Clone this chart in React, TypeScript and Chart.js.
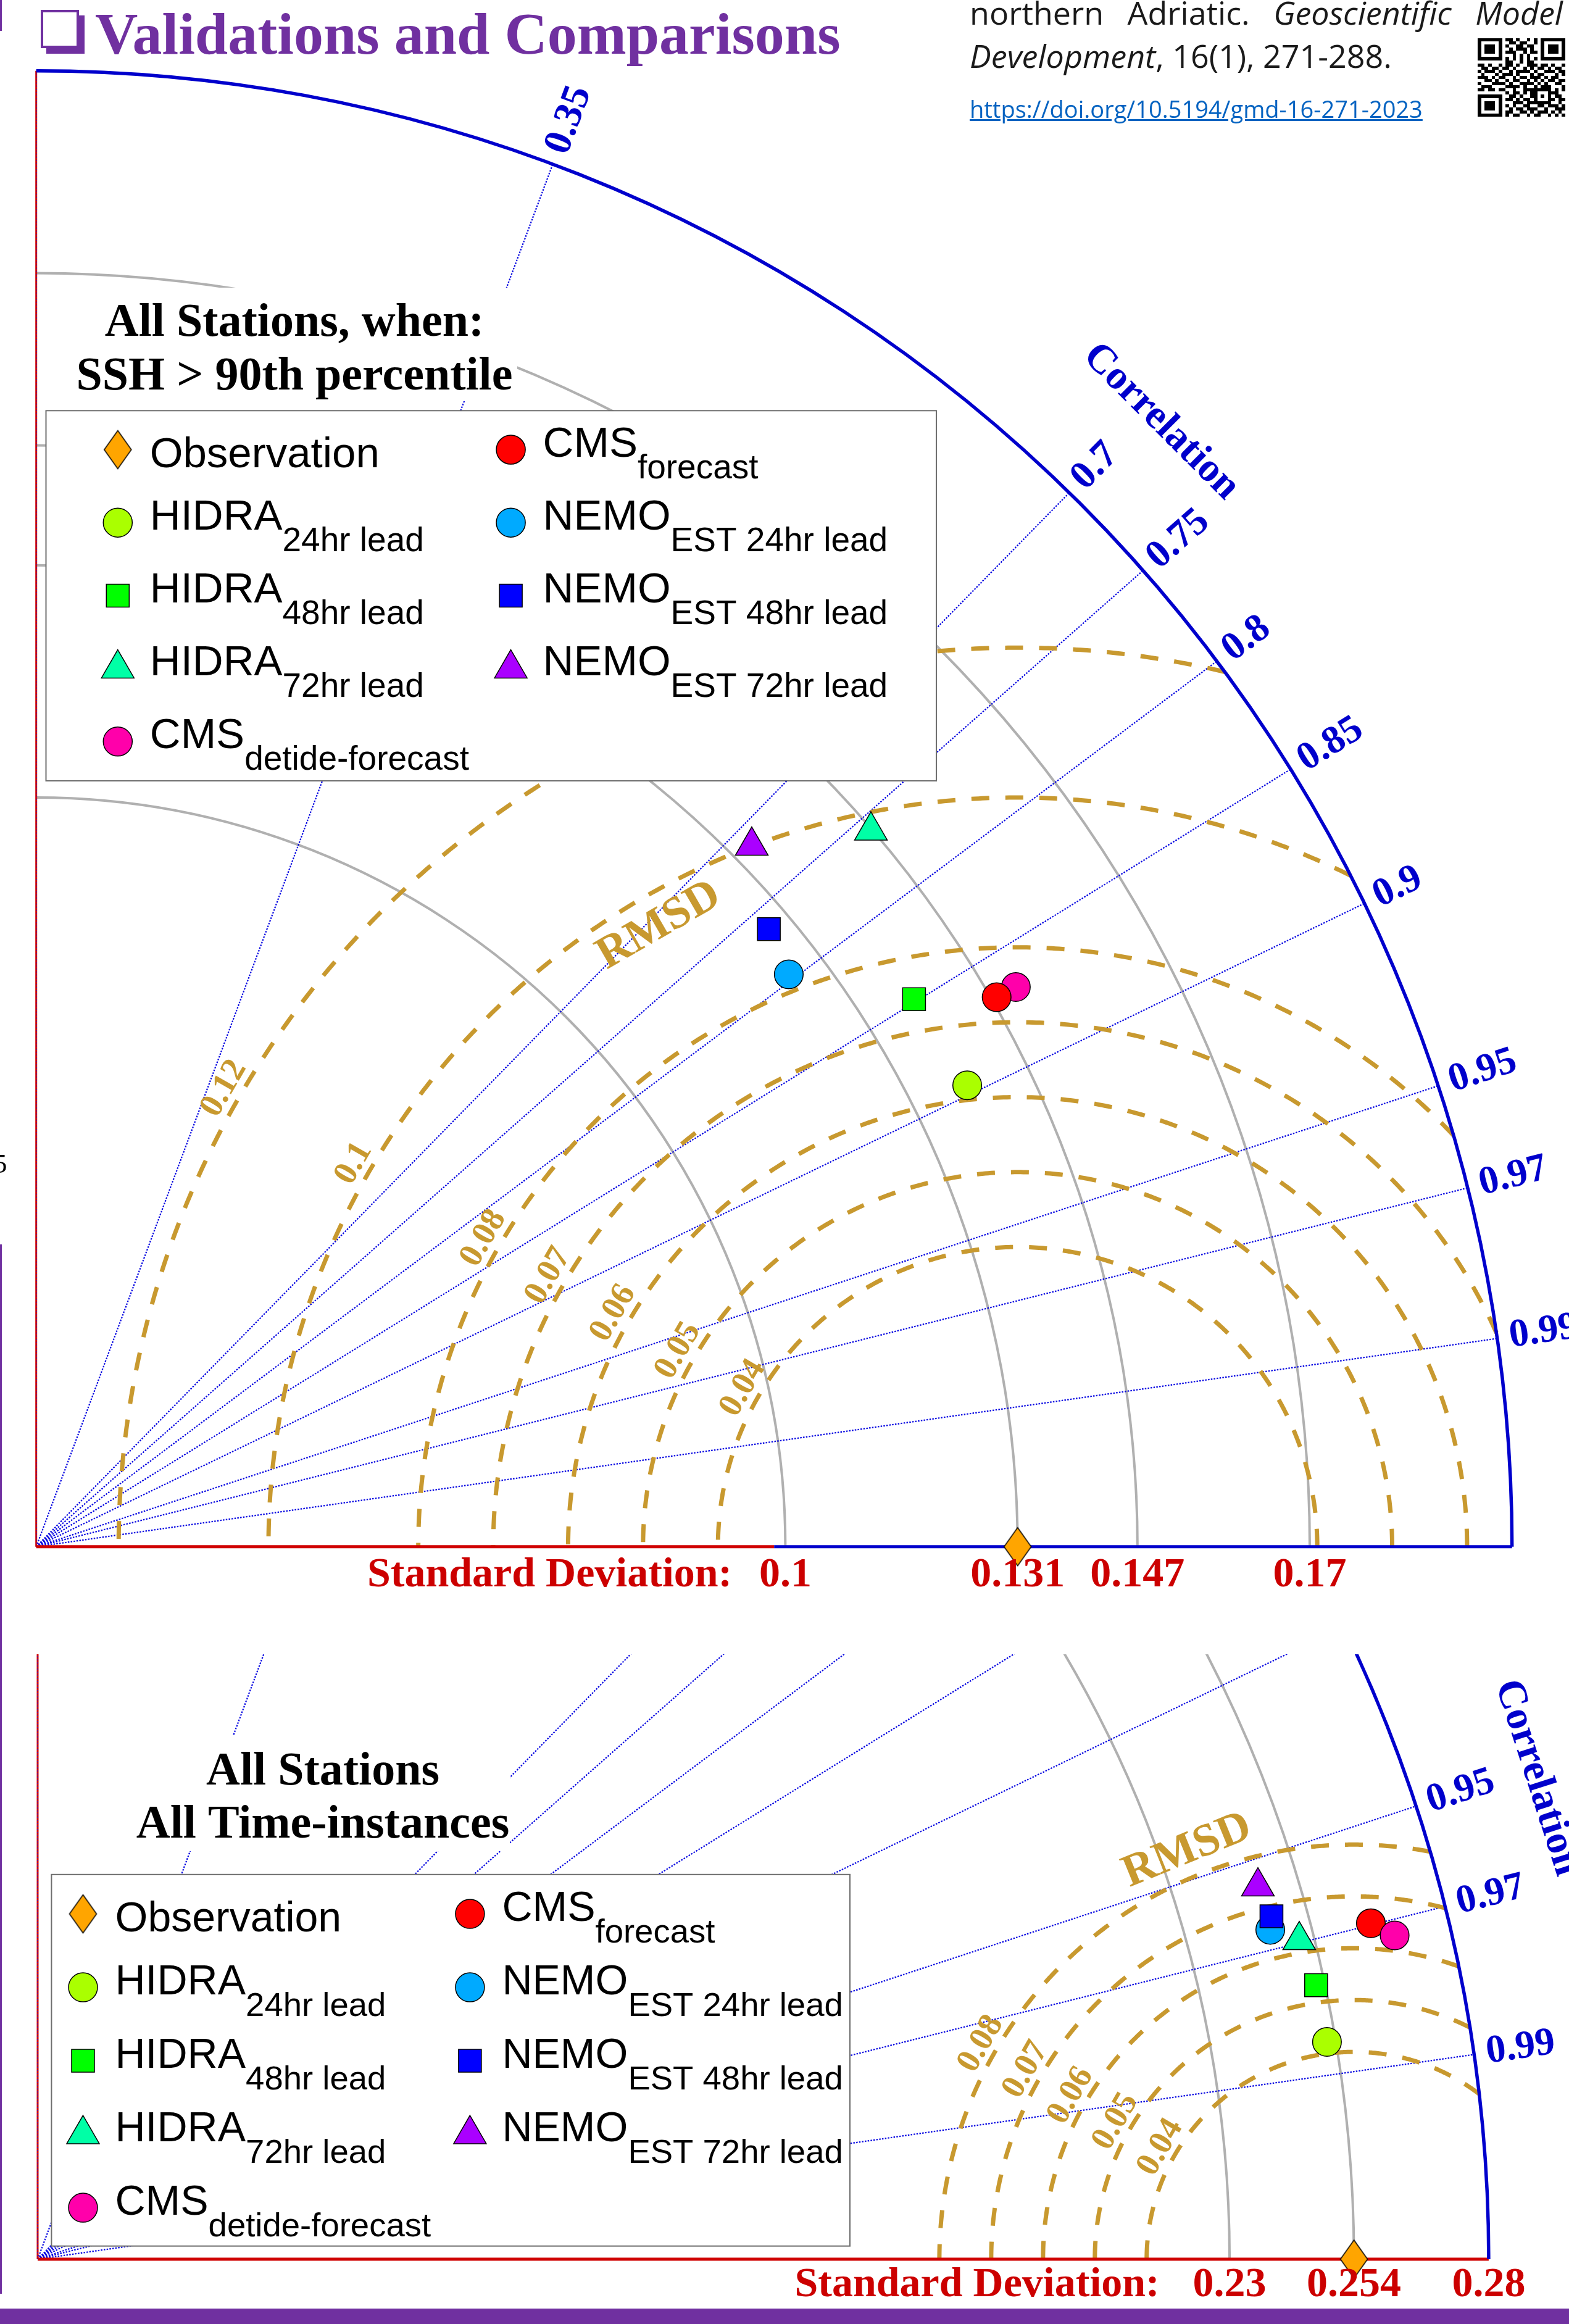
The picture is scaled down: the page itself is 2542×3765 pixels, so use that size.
import React, { useEffect, useRef } from 'react';
import { Chart, registerables } from 'chart.js';

Chart.register(...registerables);

const SERIF = '"Liberation Serif", "Times New Roman", serif';
const SANS = '"Liberation Sans", Arial, sans-serif';
const GOLD = '#C8992F';
const PURPLE = '#7030A0';

// ---------------- data ----------------
const seriesMain = ['Observation', 'HIDRA', 'HIDRA', 'HIDRA', 'CMS', 'CMS', 'NEMO', 'NEMO', 'NEMO'];
const seriesSub = ['', '24hr lead', '48hr lead', '72hr lead', 'detide-forecast', 'forecast', 'EST 24hr lead', 'EST 48hr lead', 'EST 72hr lead'];
const seriesColor = ['#FFA500', '#AAFF00', '#00FF00', '#00FFA6', '#FF00AA', '#FF0000', '#00AAFF', '#0000FF', '#AA00FF'];
const seriesShape = ['diamond', 'circle', 'rect', 'triangle', 'circle', 'circle', 'circle', 'rect', 'triangle'];
const legendCol1 = [0, 1, 2, 3, 4];
const legendCol2 = [5, 6, 7, 8];

// top panel: SSH > 90th percentile (std, correlation)
const topStd = [0.131, 0.1387, 0.1381, 0.1468, 0.1506, 0.1477, 0.1262, 0.1279, 0.1337];
const topCorr = [1.0, 0.896, 0.8485, 0.759, 0.8683, 0.868, 0.796, 0.7646, 0.7144];
// bottom panel: all time instances
const botStd = [0.254, 0.2523, 0.2523, 0.2511, 0.2692, 0.2653, 0.2462, 0.2471, 0.2462];
const botCorr = [1.0, 0.9861, 0.9778, 0.9695, 0.9727, 0.9697, 0.9661, 0.9635, 0.9564];

const corrTicks = [0.35, 0.7, 0.75, 0.8, 0.85, 0.9, 0.95, 0.97, 0.99];
const topStdTicks = [0.1, 0.131, 0.147, 0.17];
const topStdArcs = [0.1, 0.131, 0.147, 0.17];
const topRmsTicks = [0.04, 0.05, 0.06, 0.07, 0.08, 0.1, 0.12];
const botStdTicks = [0.23, 0.254, 0.28];
const botStdArcs = [0.23, 0.254];
const botRmsTicks = [0.04, 0.05, 0.06, 0.07, 0.08];
const topTitle = ['All Stations, when:', 'SSH > 90th percentile'];
const botTitle = ['All Stations', 'All Time-instances'];

const qrRows = [
  '1111111011010010101111111',
  '1000001001101100101000001',
  '1011101010011011001011101',
  '1011101001011101001011101',
  '1011101011100101101011101',
  '1000001000101010001000001',
  '1111111010101010101111111',
  '0000000011001011000000000',
  '1101001011010011101101001',
  '0110110110100101011010110',
  '1011101001011110100111011',
  '0100010111010001011000101',
  '1110101100101101110101100',
  '0011010010110010101011011',
  '1000111101001111010100110',
  '0111000011110100101110001',
  '1101101100100111111110101',
  '0000000010110101100011100',
  '1111111001101001101010110',
  '1000001011010110100011011',
  '1011101000111011111110010',
  '1011101010100110011011101',
  '1011101001011011100100111',
  '1000001011001101011101010',
  '1111111010110010110010101',
];

// ---------------- layout ----------------
type Panel = {
  std: number[]; corr: number[]; order: number[];
  canvasTop: number; canvasH: number;
  pad: { left: number; right: number; top: number; bottom: number };
  maxStd: number; yMax: number;
  stdTicks: number[]; stdArcs: number[]; rmsTicks: number[];
  redEnd: number; sdTitleRight: number; sdLabelDy: number;
  corrGap: number; corrTitleAngle: number; corrTitleOffset: number;
  rmsLabelAngle: number; rmsLabelOffset: number;
  rmsTitleDist: number; rmsTitleAngle: number;
  clipTop: boolean;
  title: string[]; titleCx: number; titleBase: number[]; titleBox: number[];
  legendBox: number[]; legendColX: number[]; legendRow0: number; legendDy: number;
  mainFont: number; subFont: number;
};

const TOP: Panel = {
  std: topStd, corr: topCorr, order: [0, 1, 2, 3, 5, 4, 6, 7, 8],
  canvasTop: 0, canvasH: 2640,
  pad: { left: 58.7, right: 92.3, top: 114.7, bottom: 134.3 },
  maxStd: 0.197, yMax: 0.197,
  stdTicks: topStdTicks, stdArcs: topStdArcs, rmsTicks: topRmsTicks,
  redEnd: 0.0985, sdTitleRight: 0.0929, sdLabelDy: 64,
  corrGap: 20, corrTitleAngle: 45, corrTitleOffset: 186,
  rmsLabelAngle: 150, rmsLabelOffset: 28,
  rmsTitleDist: 0.0957, rmsTitleAngle: 120,
  clipTop: false,
  title: topTitle, titleCx: 477, titleBase: [544, 631], titleBox: [62, 466, 838, 650],
  legendBox: [74.5, 665.3, 1517, 1265], legendColX: [190.8, 827.6], legendRow0: 728.5, legendDy: 118.2,
  mainFont: 69, subFont: 55,
};

const BOT: Panel = {
  std: botStd, corr: botCorr, order: [0, 1, 2, 3, 4, 5, 7, 6, 8],
  canvasTop: 2640, canvasH: 1100,
  pad: { left: 61, right: 130.1, top: 40, bottom: 80 },
  maxStd: 0.28, yMax: 0.116722,
  stdTicks: botStdTicks, stdArcs: botStdArcs, rmsTicks: botRmsTicks,
  redEnd: 0.28, sdTitleRight: 0.2165, sdLabelDy: 60,
  corrGap: 20, corrTitleAngle: 17.8, corrTitleOffset: 200,
  rmsLabelAngle: 150, rmsLabelOffset: 26,
  rmsTitleDist: 0.0851, rmsTitleAngle: 112.2,
  clipTop: true,
  title: botTitle, titleCx: 523, titleBase: [2891, 2977], titleBox: [90, 2812, 826, 2999],
  legendBox: [83.4, 3036.8, 1377, 3638.7], legendColX: [134.5, 761.4], legendRow0: 3100.6, legendDy: 119,
  mainFont: 68, subFont: 54.5,
};

// ---------------- markers ----------------
const diamondCache: Record<string, HTMLCanvasElement> = {};
function diamondImg(color: string): HTMLCanvasElement {
  if (diamondCache[color]) return diamondCache[color];
  const c = document.createElement('canvas');
  c.width = 50; c.height = 66;
  const g = c.getContext('2d')!;
  g.beginPath();
  g.moveTo(25, 2); g.lineTo(47, 33); g.lineTo(25, 64); g.lineTo(3, 33); g.closePath();
  g.fillStyle = color; g.fill();
  g.lineWidth = 1.5; g.strokeStyle = '#000'; g.stroke();
  diamondCache[color] = c;
  return c;
}
function radiusFor(shape: string) {
  if (shape === 'circle') return 23.3;
  if (shape === 'rect') return 26.2;
  if (shape === 'triangle') return 30.6;
  return 30;
}
function drawMarker(ctx: CanvasRenderingContext2D, shape: string, color: string, cx: number, cy: number) {
  if (shape === 'diamond') { ctx.drawImage(diamondImg(color), cx - 25, cy - 33); return; }
  ctx.beginPath();
  if (shape === 'circle') ctx.arc(cx, cy, 23.5, 0, Math.PI * 2);
  else if (shape === 'rect') ctx.rect(cx - 18.5, cy - 18.5, 37, 37);
  else {
    const r = 30.6;
    ctx.moveTo(cx, cy - r);
    ctx.lineTo(cx + 0.866 * r, cy + 0.5 * r);
    ctx.lineTo(cx - 0.866 * r, cy + 0.5 * r);
    ctx.closePath();
  }
  ctx.fillStyle = color; ctx.fill();
  ctx.setLineDash([]);
  ctx.lineWidth = 1.5; ctx.strokeStyle = '#000'; ctx.stroke();
}

// ---------------- plugin ----------------
function taylorPlugin(p: Panel) {
  const geo = (chart: any) => {
    const xs = chart.scales.x, ys = chart.scales.y;
    const X = (v: number) => xs.getPixelForValue(v);
    const Y = (v: number) => ys.getPixelForValue(v);
    const ox = X(0), oy = Y(0), k = X(1) - X(0);
    return { X, Y, ox, oy, k, R: p.maxStd * k };
  };
  const clip = (chart: any, ctx: CanvasRenderingContext2D) => {
    if (!p.clipTop) return;
    ctx.beginPath();
    ctx.rect(0, chart.chartArea.top, chart.width, chart.height - chart.chartArea.top);
    ctx.clip();
  };
  return {
    id: 'taylor',
    beforeDatasetsDraw(chart: any) {
      const ctx: CanvasRenderingContext2D = chart.ctx;
      const { X, Y, ox, oy, k, R } = geo(chart);
      const obs = p.std[0];
      ctx.save();
      clip(chart, ctx);
      ctx.lineCap = 'butt';
      // std arcs
      ctx.setLineDash([]);
      ctx.strokeStyle = '#b0b0b0'; ctx.lineWidth = 4;
      p.stdArcs.forEach((s) => { ctx.beginPath(); ctx.arc(ox, oy, s * k, -Math.PI / 2, 0); ctx.stroke(); });
      // correlation rays
      ctx.strokeStyle = '#0000E0'; ctx.lineWidth = 2.2; ctx.setLineDash([2.5, 2.2]);
      corrTicks.forEach((c) => {
        const s = Math.sqrt(1 - c * c);
        ctx.beginPath(); ctx.moveTo(ox, oy); ctx.lineTo(X(p.maxStd * c), Y(p.maxStd * s)); ctx.stroke();
      });
      // RMSD contours
      ctx.strokeStyle = GOLD; ctx.lineWidth = 7; ctx.setLineDash([29, 26]);
      p.rmsTicks.forEach((rho) => {
        let cphi = (p.maxStd * p.maxStd - obs * obs - rho * rho) / (2 * obs * rho);
        cphi = Math.max(-1, Math.min(1, cphi));
        const phi0 = Math.acos(cphi);
        ctx.beginPath();
        const n = 400;
        for (let i = 0; i <= n; i++) {
          const phi = phi0 + (Math.PI - phi0) * (i / n);
          const px = X(obs + rho * Math.cos(phi)), py = Y(rho * Math.sin(phi));
          if (i === 0) ctx.moveTo(px, py); else ctx.lineTo(px, py);
        }
        ctx.stroke();
      });
      // axes
      ctx.setLineDash([]);
      ctx.strokeStyle = '#D00000'; ctx.lineWidth = 3;
      ctx.beginPath(); ctx.moveTo(ox, oy); ctx.lineTo(ox, Y(p.maxStd)); ctx.stroke();
      ctx.strokeStyle = '#2222EE'; ctx.lineWidth = 1.2; ctx.setLineDash([2, 3]);
      ctx.beginPath(); ctx.moveTo(ox, oy); ctx.lineTo(ox, Y(p.maxStd)); ctx.stroke();
      ctx.setLineDash([]);
      ctx.lineWidth = 5;
      ctx.strokeStyle = '#D00000';
      ctx.beginPath(); ctx.moveTo(ox, oy); ctx.lineTo(X(p.redEnd), oy); ctx.stroke();
      if (p.redEnd < p.maxStd) {
        ctx.strokeStyle = '#0000CC';
        ctx.beginPath(); ctx.moveTo(X(p.redEnd), oy); ctx.lineTo(X(p.maxStd), oy); ctx.stroke();
      }
      // outer arc
      ctx.strokeStyle = '#0000CC'; ctx.lineWidth = 5.5;
      ctx.beginPath(); ctx.arc(ox, oy, R, -Math.PI / 2, 0); ctx.stroke();
      ctx.restore();
    },
    afterDatasetsDraw(chart: any) {
      const ctx: CanvasRenderingContext2D = chart.ctx;
      const { X, ox, oy, k, R } = geo(chart);
      const obs = p.std[0];
      const T = p.canvasTop;
      ctx.save();
      clip(chart, ctx);
      // correlation tick labels
      ctx.fillStyle = '#0000CC';
      ctx.font = `bold 64px ${SERIF}`;
      ctx.textAlign = 'left'; ctx.textBaseline = 'middle';
      corrTicks.forEach((c) => {
        const th = Math.acos(c); const r = R + p.corrGap;
        ctx.save();
        ctx.translate(ox + r * Math.cos(th), oy - r * Math.sin(th));
        ctx.rotate(-th);
        ctx.fillText(String(c), 0, 0);
        ctx.restore();
      });
      const a = (p.corrTitleAngle * Math.PI) / 180; const rr = R + p.corrTitleOffset;
      ctx.save();
      ctx.translate(ox + rr * Math.cos(a), oy - rr * Math.sin(a));
      ctx.rotate(Math.PI / 2 - a);
      ctx.textAlign = 'center';
      ctx.font = `bold 66px ${SERIF}`;
      ctx.fillText('Correlation', 0, 0);
      ctx.restore();
      // RMSD labels
      ctx.fillStyle = GOLD;
      ctx.font = `bold 55px ${SERIF}`;
      ctx.textAlign = 'center'; ctx.textBaseline = 'middle';
      const cx = X(obs);
      p.rmsTicks.forEach((rho) => {
        const ang = (p.rmsLabelAngle * Math.PI) / 180; const rp = rho * k + p.rmsLabelOffset;
        ctx.save();
        ctx.translate(cx + rp * Math.cos(ang), oy - rp * Math.sin(ang));
        ctx.rotate(-(ang - Math.PI / 2));
        ctx.fillText(String(rho), 0, 0);
        ctx.restore();
      });
      {
        const ang = (p.rmsTitleAngle * Math.PI) / 180; const rp = p.rmsTitleDist * k;
        ctx.save();
        ctx.translate(cx + rp * Math.cos(ang), oy - rp * Math.sin(ang));
        ctx.rotate(-(ang - Math.PI / 2));
        ctx.font = `bold 74px ${SERIF}`;
        ctx.fillText('RMSD', 0, 0);
        ctx.restore();
      }
      ctx.restore();

      // std axis labels
      ctx.save();
      ctx.fillStyle = '#CC0000';
      ctx.font = `bold 68px ${SERIF}`;
      ctx.textAlign = 'center'; ctx.textBaseline = 'alphabetic';
      p.stdTicks.forEach((t) => ctx.fillText(String(t), X(t), oy + p.sdLabelDy));
      ctx.textAlign = 'right';
      ctx.fillText('Standard Deviation:', X(p.sdTitleRight), oy + p.sdLabelDy);

      // title with white box
      const tb = p.titleBox;
      ctx.fillStyle = '#FFFFFF';
      ctx.fillRect(tb[0], tb[1] - T, tb[2] - tb[0], tb[3] - tb[1]);
      ctx.fillStyle = '#000';
      ctx.font = `bold 76px ${SERIF}`;
      ctx.textAlign = 'center';
      p.title.forEach((line, i) => ctx.fillText(line, p.titleCx, p.titleBase[i] - T));

      // legend
      const lb = p.legendBox;
      ctx.fillStyle = '#FFFFFF';
      ctx.fillRect(lb[0], lb[1] - T, lb[2] - lb[0], lb[3] - lb[1]);
      ctx.strokeStyle = '#6e6e6e'; ctx.lineWidth = 2; ctx.setLineDash([]);
      ctx.strokeRect(lb[0], lb[1] - T, lb[2] - lb[0], lb[3] - lb[1]);
      [legendCol1, legendCol2].forEach((col, ci) => {
        col.forEach((idx, ri) => {
          const mx = p.legendColX[ci];
          const my = p.legendRow0 + ri * p.legendDy - T;
          drawMarker(ctx, seriesShape[idx], seriesColor[idx], mx, my);
          const tx = mx + 52;
          ctx.fillStyle = '#000';
          ctx.textAlign = 'left'; ctx.textBaseline = 'alphabetic';
          ctx.font = `${p.mainFont}px ${SANS}`;
          if (seriesSub[idx]) {
            ctx.fillText(seriesMain[idx], tx, my + 11);
            const w = ctx.measureText(seriesMain[idx]).width;
            ctx.font = `${p.subFont}px ${SANS}`;
            ctx.fillText(seriesSub[idx], tx + w, my + 46);
          } else {
            ctx.fillText(seriesMain[idx], tx, my + 28);
          }
        });
      });
      ctx.restore();
    },
  };
}

function buildDatasets(p: Panel) {
  return seriesMain.map((name, i) => {
    const s = p.std[i], c = p.corr[i];
    const shape = seriesShape[i];
    const r = radiusFor(shape);
    return {
      label: name + (seriesSub[i] ? ' ' + seriesSub[i] : ''),
      data: [{ x: s * c, y: s * Math.sqrt(Math.max(0, 1 - c * c)) }],
      pointStyle: shape === 'diamond' ? diamondImg(seriesColor[i]) : shape,
      pointRadius: r,
      pointHoverRadius: r,
      backgroundColor: seriesColor[i],
      borderColor: '#000',
      borderWidth: 1.5,
      clip: false as any,
      order: p.order[i],
    };
  });
}

function TaylorCanvas({ panel }: { panel: Panel }) {
  const ref = useRef<HTMLCanvasElement>(null);
  useEffect(() => {
    const cv = ref.current!;
    const chart = new Chart(cv, {
      type: 'scatter',
      data: { datasets: buildDatasets(panel) as any },
      options: {
        responsive: false,
        maintainAspectRatio: false,
        animation: false,
        devicePixelRatio: 1,
        events: [],
        layout: { padding: panel.pad },
        plugins: { legend: { display: false }, tooltip: { enabled: false } },
        scales: {
          x: { type: 'linear', min: 0, max: panel.maxStd, display: false },
          y: { type: 'linear', min: 0, max: panel.yMax, display: false },
        },
      },
      plugins: [taylorPlugin(panel) as any],
    });
    return () => chart.destroy();
  }, [panel]);
  return (
    <canvas
      ref={ref}
      width={2542}
      height={panel.canvasH}
      style={{ position: 'absolute', left: 0, top: panel.canvasTop, width: 2542, height: panel.canvasH }}
    />
  );
}

function QRCode() {
  const cells: JSX.Element[] = [];
  qrRows.forEach((row, y) => {
    for (let x = 0; x < row.length; x++) {
      if (row[x] === '1') cells.push(<rect key={`${x}-${y}`} x={x} y={y} width={1} height={1} fill="#000" />);
    }
  });
  return (
    <svg
      viewBox="0 0 25 25"
      preserveAspectRatio="none"
      shapeRendering="crispEdges"
      style={{ position: 'absolute', left: 2394, top: 62, width: 142, height: 127 }}
    >
      {cells}
    </svg>
  );
}

export default function App() {
  const openSans = '"Open Sans", "Noto Sans", sans-serif';
  return (
    <div
      style={{
        position: 'absolute', left: 0, top: 0, width: 2542, height: 3765,
        overflow: 'hidden', background: '#fff',
      }}
    >
      <TaylorCanvas panel={TOP} />
      <TaylorCanvas panel={BOT} />

      {/* poster title */}
      <div
        style={{
          position: 'absolute', left: 66, top: 16, width: 54, height: 54,
          border: `4px solid ${PURPLE}`, background: '#fff',
          boxShadow: `9px 9px 0 ${PURPLE}`,
        }}
      />
      <div
        style={{
          position: 'absolute', left: 154, top: 6.6, fontFamily: SERIF, fontWeight: 'bold',
          fontSize: 96, lineHeight: '96px', color: PURPLE, whiteSpace: 'nowrap',
        }}
      >
        Validations and Comparisons
      </div>

      {/* citation */}
      <div
        style={{
          position: 'absolute', left: 1571, top: -6, width: 961, fontFamily: openSans,
          fontSize: 52, lineHeight: '52px', color: '#1a1a1a', textAlign: 'justify',
          textAlignLast: 'justify' as any,
        }}
      >
        northern Adriatic. <i>Geoscientific Model</i>
      </div>
      <div
        style={{
          position: 'absolute', left: 1571, top: 63.8, fontFamily: openSans,
          fontSize: 52, lineHeight: '52px', color: '#1a1a1a', whiteSpace: 'nowrap',
        }}
      >
        <i>Development</i>, 16(1), 271-288.
      </div>
      <div
        style={{
          position: 'absolute', left: 1571, top: 157.3, fontFamily: openSans,
          fontSize: 38, lineHeight: '38px', color: '#0563C1', textDecoration: 'underline',
          whiteSpace: 'nowrap',
        }}
      >
        https://doi.org/10.5194/gmd-16-271-2023
      </div>
      <QRCode />

      {/* cut-off neighbour label */}
      <div
        style={{
          position: 'absolute', left: -11, top: 1863.3, fontFamily: SERIF, fontSize: 45,
          lineHeight: '45px', color: '#000',
        }}
      >
        5
      </div>

      {/* purple frame pieces */}
      <div style={{ position: 'absolute', left: 0, top: 0, width: 3, height: 50, background: PURPLE }} />
      <div style={{ position: 'absolute', left: 0, top: 2016, width: 3, height: 1700, background: PURPLE }} />
      <div style={{ position: 'absolute', left: 0, top: 3740, width: 2542, height: 25, background: PURPLE }} />
    </div>
  );
}
